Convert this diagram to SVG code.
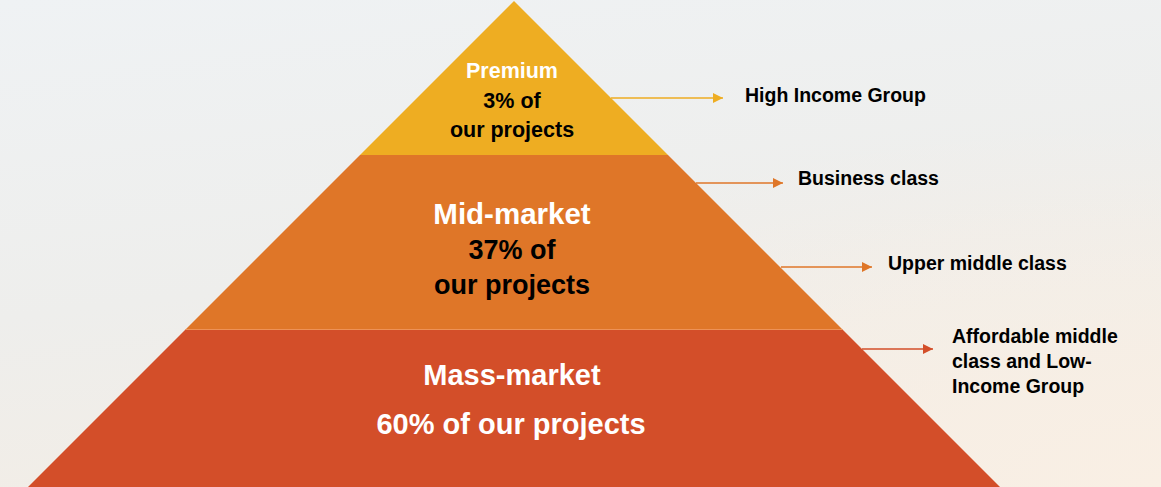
<svg xmlns="http://www.w3.org/2000/svg" width="1161" height="487" viewBox="0 0 1161 487">
  <defs>
    <linearGradient id="bg" x1="0" y1="0" x2="0.3" y2="1">
      <stop offset="0" stop-color="#EFF2F4"/>
      <stop offset="0.6" stop-color="#EEEEEC"/>
      <stop offset="1" stop-color="#F2EDE6"/>
    </linearGradient>
    <radialGradient id="warm" cx="1" cy="1" r="0.75" gradientUnits="objectBoundingBox">
      <stop offset="0" stop-color="#F9EFE4" stop-opacity="1"/>
      <stop offset="1" stop-color="#F9EFE4" stop-opacity="0"/>
    </radialGradient>
    <marker id="ahY" markerUnits="userSpaceOnUse" markerWidth="11" markerHeight="11" refX="10" refY="5" orient="auto">
      <path d="M0,0 L10,5 L0,10 Z" fill="#EEAD22"/>
    </marker>
    <marker id="ahO" markerUnits="userSpaceOnUse" markerWidth="11" markerHeight="11" refX="10" refY="5" orient="auto">
      <path d="M0,0 L10,5 L0,10 Z" fill="#DF7628"/>
    </marker>
    <marker id="ahR" markerUnits="userSpaceOnUse" markerWidth="11" markerHeight="11" refX="10" refY="5" orient="auto">
      <path d="M0,0 L10,5 L0,10 Z" fill="#D34E29"/>
    </marker>
  </defs>
  <style>
    text { font-family: "Liberation Sans", Arial, sans-serif; font-weight: bold; }
    .c { text-anchor: middle; }
    .w { fill: #FFFFFF; }
    .k { fill: #000000; }
    .lab { font-size: 19.5px; fill: #000000; }
    .conn { fill: none; stroke-width: 1.5; }
  </style>
  <rect x="0" y="0" width="1161" height="487" fill="url(#bg)"/>
  <rect x="0" y="0" width="1161" height="487" fill="url(#warm)"/>

  <g id="tier-premium">
    <polygon points="514,1 668,155 360,155" fill="#EEAD22"/>
    <text class="c w" x="512" y="78" font-size="21.5">Premium</text>
    <text class="c k" x="512" y="108" font-size="21.5">3% of</text>
    <text class="c k" x="512" y="137" font-size="21.5">our projects</text>
  </g>

  <g id="tier-mid">
    <polygon points="360,155 668,155 842.5,329.5 185.5,329.5" fill="#DF7628"/>
    <text class="c w" x="512" y="224" font-size="29.5">Mid-market</text>
    <text class="c k" x="512" y="259" font-size="27">37% of</text>
    <text class="c k" x="512" y="294" font-size="27">our projects</text>
  </g>

  <g id="tier-mass">
    <polygon points="185.5,329.5 842.5,329.5 1000,487 28,487" fill="#D34E29"/>
    <line x1="185.5" y1="329.5" x2="842.5" y2="329.5" stroke="#EE9257" stroke-width="1"/>
    <text class="c w" x="512" y="385" font-size="29">Mass-market</text>
    <text class="c w" x="511" y="434" font-size="29">60% of our projects</text>
  </g>

  <g id="connectors">
    <path class="conn" d="M611,98 H723" stroke="#EEAD22" marker-end="url(#ahY)"/>
    <path class="conn" d="M696,183 H783" stroke="#DF7628" marker-end="url(#ahO)"/>
    <path class="conn" d="M781,267 H872" stroke="#DF7628" marker-end="url(#ahO)"/>
    <path class="conn" d="M862,349 H933" stroke="#D34E29" marker-end="url(#ahR)"/>
  </g>

  <g id="label-high">
    <text class="lab" x="745" y="102">High Income Group</text>
  </g>
  <g id="label-business">
    <text class="lab" x="798" y="185">Business class</text>
  </g>
  <g id="label-upper">
    <text class="lab" x="888" y="270">Upper middle class</text>
  </g>
  <g id="label-affordable">
    <text class="lab" x="952" y="343">Affordable middle</text>
    <text class="lab" x="952" y="368">class and Low-</text>
    <text class="lab" x="952" y="393">Income Group</text>
  </g>
</svg>
